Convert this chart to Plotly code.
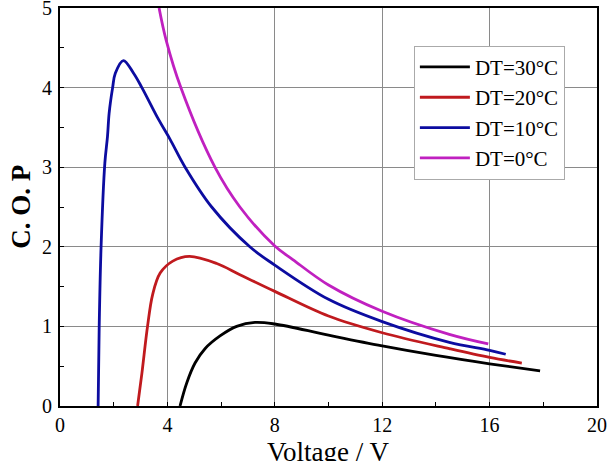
import plotly.graph_objects as go

# DT = 30 °C
v30 = [4.47, 4.72, 5.03, 5.4, 5.96, 6.58, 7.26, 8.0, 10.0, 12.0, 14.0, 16.0, 17.88]
c30 = [0.0, 0.29, 0.54, 0.72, 0.88, 1.0, 1.05, 1.03, 0.89, 0.755, 0.635, 0.53, 0.44]
# DT = 20 °C
v20 = [2.89, 3.05, 3.26, 3.45, 3.73, 4.2, 4.82, 5.84, 6.7, 8.0, 10.0, 12.0, 14.5, 16.0, 17.2]
c20 = [0.0, 0.41, 1.0, 1.4, 1.67, 1.82, 1.88, 1.79, 1.65, 1.44, 1.13, 0.92, 0.72, 0.61, 0.54]
# DT = 10 °C
v10 = [1.42, 1.46, 1.53, 1.67, 1.77, 1.83, 1.96, 2.06, 2.36, 2.74, 3.05, 3.67, 4.1, 4.66, 5.65, 7.07, 8.0, 10.0, 12.0, 14.5, 16.0, 16.6]
c10 = [0.0, 1.0, 2.0, 3.05, 3.39, 3.68, 4.0, 4.18, 4.34, 4.18, 4.0, 3.6, 3.35, 3.0, 2.5, 2.0, 1.77, 1.34, 1.06, 0.80, 0.70, 0.65]
# DT = 0 °C
v0 = [3.69, 3.95, 4.5, 5.77, 6.7, 8.0, 8.67, 10.0, 12.0, 14.5, 15.95]
c0 = [5.0, 4.6, 4.0, 3.0, 2.5, 2.01, 1.84, 1.52, 1.19, 0.90, 0.78]

series = [
    ("DT=30°C", v30, c30, "#000000"),
    ("DT=20°C", v20, c20, "#C01A1E"),
    ("DT=10°C", v10, c10, "#0C0CA0"),
    ("DT=0°C", v0, c0, "#C020C0"),
]

x_ticks = [0, 4, 8, 12, 16, 20]
y_ticks = [0, 1, 2, 3, 4, 5]
x_title = "Voltage / V"
y_title = "<b>C. O. P</b>"

FONT = "Liberation Serif"

fig = go.Figure()
for name, xs, ys, col in series:
    fig.add_trace(go.Scatter(
        x=xs, y=ys, mode="lines", name=name,
        line=dict(color=col, width=2.8, shape="spline", smoothing=1.0),
    ))

fig.update_layout(
    width=613, height=461,
    margin=dict(l=60, r=16, t=8, b=55),
    paper_bgcolor="white", plot_bgcolor="white",
    font=dict(family=FONT, color="black", size=20),
    showlegend=True,
    legend=dict(
        x=0.659, y=0.905, xanchor="left", yanchor="top",
        bgcolor="white", bordercolor="#AAAAAA", borderwidth=1,
        font=dict(family=FONT, size=21, color="black"),
        itemwidth=50,
    ),
)

fig.update_xaxes(
    range=[0, 20], tickvals=x_ticks, ticktext=[str(t) for t in x_ticks],
    tickfont=dict(family=FONT, size=20, color="black"),
    showgrid=True, gridcolor="#8A8A8A", gridwidth=1,
    showline=True, linecolor="black", linewidth=2, mirror=True,
    ticks="inside", ticklen=4, tickcolor="black",
    minor=dict(ticks="inside", ticklen=4, dtick=2, tickcolor="black", showgrid=False),
    zeroline=False, ticklabelstandoff=0, ticklabeloverflow="allow",
    automargin=False,
)
fig.update_yaxes(
    range=[0, 5], tickvals=y_ticks, ticktext=[str(t) for t in y_ticks],
    tickfont=dict(family=FONT, size=20, color="black"),
    showgrid=True, gridcolor="#8A8A8A", gridwidth=1,
    showline=True, linecolor="black", linewidth=2, mirror=True,
    ticks="inside", ticklen=4, tickcolor="black",
    minor=dict(ticks="inside", ticklen=4, dtick=0.5, tickcolor="black", showgrid=False),
    zeroline=False, ticklabelstandoff=2, ticklabeloverflow="allow",
    automargin=False,
)

fig.add_annotation(
    text=x_title, xref="paper", yref="paper", x=0.5, y=-0.074,
    xanchor="center", yanchor="top", showarrow=False,
    font=dict(family=FONT, size=27, color="black"),
)
fig.add_annotation(
    text=y_title, xref="paper", yref="paper", x=-0.073, y=0.5,
    xanchor="center", yanchor="middle", showarrow=False, textangle=-90,
    font=dict(family=FONT, size=27, color="black"),
)

fig.write_html("out.html")
